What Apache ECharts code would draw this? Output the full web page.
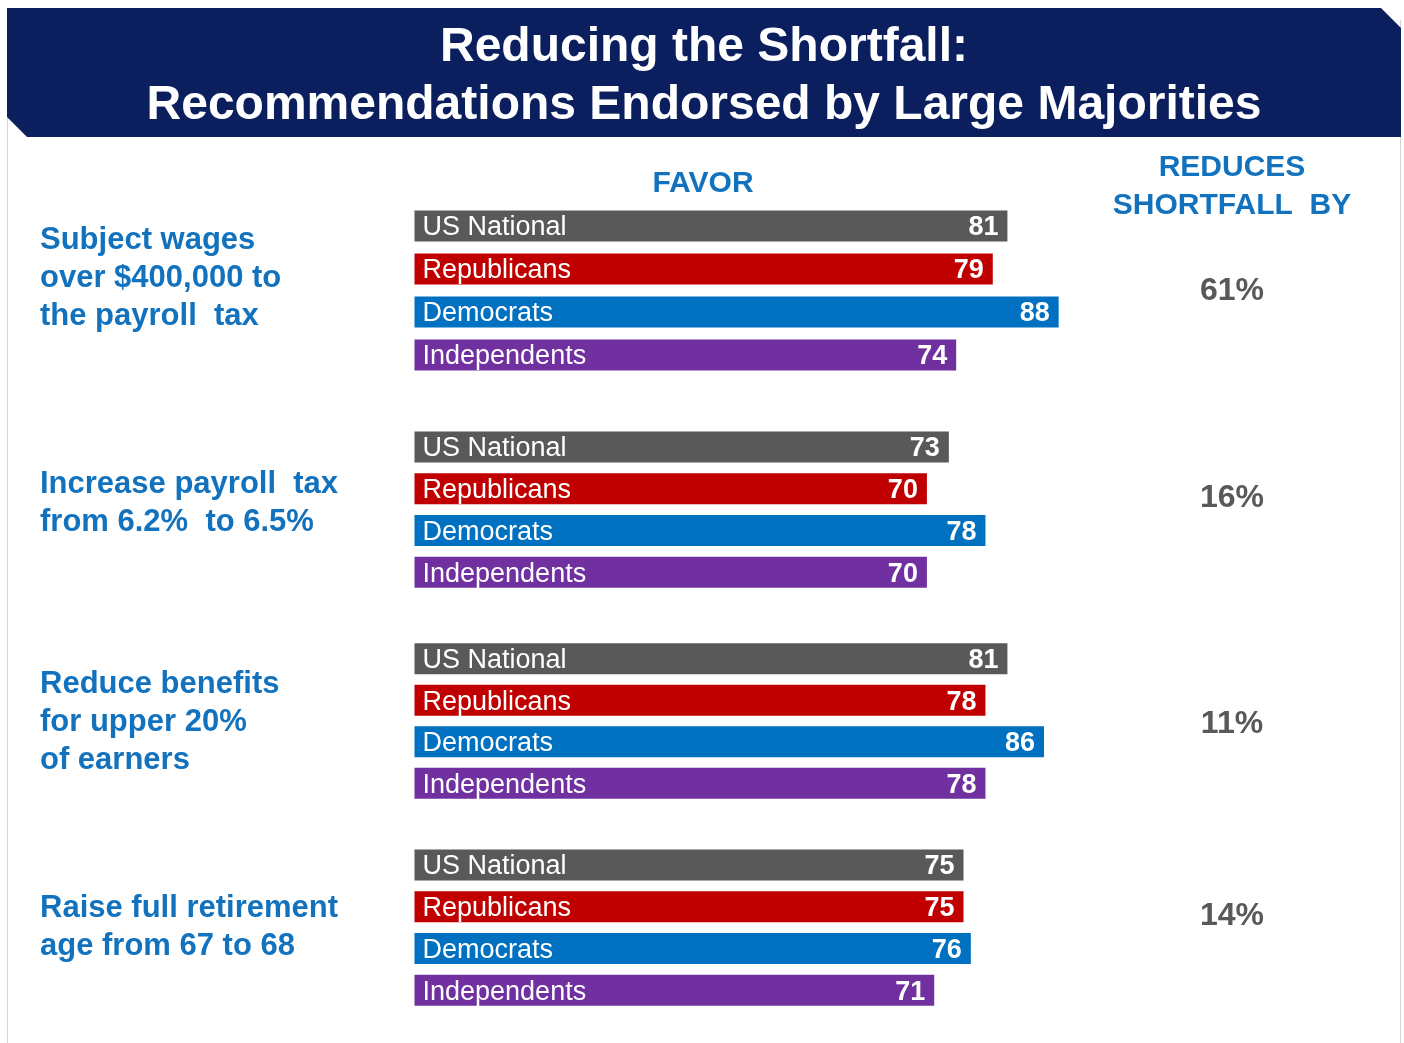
<!DOCTYPE html>
<html>
<head>
<meta charset="utf-8">
<title>Reducing the Shortfall</title>
<script src="https://cdn.jsdelivr.net/npm/echarts@6/dist/echarts.min.js"></script>
<style>
  html, body { margin: 0; padding: 0; background: #fff; }
  #chart { width: 1404px; height: 1043px; }
</style>
</head>
<body>
<div id="chart"></div>
<script>
// data
const groups = ['US National', 'Republicans', 'Democrats', 'Independents']
const proposals = [
  'Subject wages\nover $400,000 to\nthe payroll  tax',
  'Increase payroll  tax\nfrom 6.2%  to 6.5%',
  'Reduce benefits\nfor upper 20%\nof earners',
  'Raise full retirement\nage from 67 to 68'
]
const favor = [
  [81, 79, 88, 74],
  [73, 70, 78, 70],
  [81, 78, 86, 78],
  [75, 75, 76, 71]
]
const shortfall = ['61%', '16%', '11%', '14%']

const colors = ['#595959', '#c00000', '#0070c0', '#7030a0']
const FONT = '"Liberation Sans", Arial, sans-serif'
const BLUE = '#1372bd'

// layout of the four panels (px)
const gridTops = [204.5, 426, 638, 844]
const gridHeights = [172, 167, 166, 167]
const labelTops = [221, 465, 665, 889]
const pctY = [291, 498, 724, 916]

const chart = echarts.init(document.getElementById('chart'))

const grids = [], xAxes = [], yAxes = [], series = []
favor.forEach(function(vals, i) {
  grids.push({ left: 414.5, width: 732, top: gridTops[i], height: gridHeights[i] })
  xAxes.push({ type: 'value', gridIndex: i, min: 0, max: 100, show: false })
  yAxes.push({ type: 'category', gridIndex: i, data: groups, inverse: true, show: false })
  series.push({
    type: 'bar',
    xAxisIndex: i,
    yAxisIndex: i,
    barWidth: 31,
    silent: true,
    data: vals.map(function(v, k) {
      return { value: v, itemStyle: { color: colors[k] } }
    }),
    label: {
      show: true,
      position: 'insideRight',
      distance: 9,
      offset: [0, 2],
      color: '#fff',
      fontFamily: FONT,
      fontWeight: 'bold',
      fontSize: 27
    }
  })
  series.push({
    type: 'bar',
    xAxisIndex: i,
    yAxisIndex: i,
    barWidth: 31,
    barGap: '-100%',
    silent: true,
    data: vals,
    itemStyle: { color: 'rgba(0,0,0,0)' },
    label: {
      show: true,
      position: 'insideLeft',
      distance: 8,
      offset: [0, 2],
      color: '#fff',
      fontFamily: FONT,
      fontSize: 27,
      formatter: function(p) { return groups[p.dataIndex] }
    }
  })
})

const graphics = [
  // frame
  { type: 'line', shape: { x1: 7.5, y1: 100, x2: 7.5, y2: 1043 }, style: { stroke: '#d4d4d4', lineWidth: 1 } },
  { type: 'line', shape: { x1: 1400.5, y1: 20, x2: 1400.5, y2: 1043 }, style: { stroke: '#d4d4d4', lineWidth: 1 } },
  // header banner
  {
    type: 'polygon',
    shape: { points: [[7, 8], [1381, 8], [1401, 28], [1401, 137], [27, 137], [7, 117]] },
    style: { fill: '#0b1f5e' }
  },
  {
    type: 'text', x: 704, y: 48,
    style: { text: 'Reducing the Shortfall:', fill: '#fff', font: 'bold 48px ' + FONT, align: 'center', verticalAlign: 'middle' }
  },
  {
    type: 'text', x: 704, y: 106,
    style: { text: 'Recommendations Endorsed by Large Majorities', fill: '#fff', font: 'bold 48px ' + FONT, align: 'center', verticalAlign: 'middle' }
  },
  // column headers
  {
    type: 'text', x: 703, y: 184,
    style: { text: 'FAVOR', fill: BLUE, font: 'bold 30px ' + FONT, align: 'center', verticalAlign: 'middle' }
  },
  {
    type: 'text', x: 1232, y: 168,
    style: { text: 'REDUCES', fill: BLUE, font: 'bold 30px ' + FONT, align: 'center', verticalAlign: 'middle' }
  },
  {
    type: 'text', x: 1232, y: 206,
    style: { text: 'SHORTFALL  BY', fill: BLUE, font: 'bold 30px ' + FONT, align: 'center', verticalAlign: 'middle' }
  }
]

proposals.forEach(function(txt, i) {
  graphics.push({
    type: 'text', x: 40, y: labelTops[i],
    style: { text: txt, fill: BLUE, font: 'bold 31px ' + FONT, lineHeight: 38, align: 'left', verticalAlign: 'top' }
  })
  graphics.push({
    type: 'text', x: 1232, y: pctY[i],
    style: { text: shortfall[i], fill: '#595959', font: 'bold 32px ' + FONT, align: 'center', verticalAlign: 'middle' }
  })
})

chart.setOption({
  backgroundColor: '#fff',
  animation: false,
  grid: grids,
  xAxis: xAxes,
  yAxis: yAxes,
  series: series,
  graphic: graphics
})
</script>
</body>
</html>
